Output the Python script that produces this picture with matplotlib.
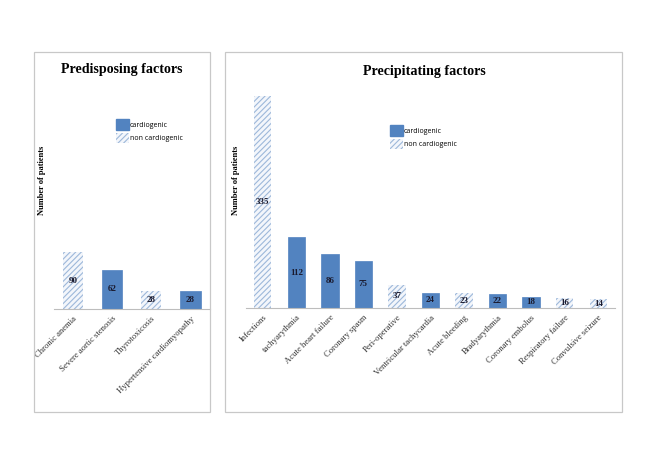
import matplotlib
matplotlib.use("Agg")
import matplotlib.pyplot as plt
from matplotlib.patches import Rectangle, Patch

pre_labels = ["Chronic anemia", "Severe aortic stenosis", "Thyrotoxicosis",
              "Hypertensive cardiomyopathy"]
pre_values = [90, 62, 28, 28]
pre_cardio = [False, True, False, True]

prec_labels = ["Infections", "tachyarythmia", "Acute heart failure", "Coronary spasm",
               "Peri-operative", "Ventricular tachycardia", "Acute bleeding",
               "Bradyarythmia", "Coronary embolus", "Respiratory failure",
               "Convulsive seizure"]
prec_values = [335, 112, 86, 75, 37, 24, 23, 22, 18, 16, 14]
prec_cardio = [False, True, True, True, False, True, False, True, True, False, False]

BLUE = "#5283c0"
HATCH_C = "#9db8da"
HATCH_BG = "#f3f6fb"
W, H = 663, 469
plt.rcParams['hatch.linewidth'] = 0.8
serif = "Liberation Serif"

fig = plt.figure(figsize=(W / 100, H / 100), dpi=100)
fig.patch.set_facecolor("white")

def fx(px):
    return px / W

def fy(py):
    return 1 - py / H

# panel boxes
for x0, x1 in [(34, 210), (225, 622)]:
    fig.patches.append(Rectangle((fx(x0), fy(412)), fx(x1) - fx(x0), fy(52) - fy(412),
                                 transform=fig.transFigure, fill=False,
                                 edgecolor="#c8c8c8", linewidth=0.9))

def draw_panel(ax, labels, values, cardio, title, tx, ty, ylx, leg_x, leg_y):
    ymax = 346
    ax.set_ylim(0, ymax)
    ax.set_xlim(-0.5, len(values) - 0.5)
    for i, (v, c) in enumerate(zip(values, cardio)):
        if c:
            ax.bar(i, v, width=0.52, color=BLUE, edgecolor=BLUE, linewidth=0.5)
        else:
            ax.bar(i, v, width=0.52, color=HATCH_BG, edgecolor=HATCH_C, hatch="//////",
                   linewidth=0)
        ax.text(i, v / 2, str(v), ha="center", va="center", fontsize=6.5,
                family=serif, fontweight="bold", color="#1a1a2e")
    for s in ["top", "right", "left"]:
        ax.spines[s].set_visible(False)
    ax.spines["bottom"].set_color("#bdbdbd")
    ax.spines["bottom"].set_linewidth(0.8)
    ax.set_yticks([])
    ax.set_xticks(range(len(values)))
    ax.set_xticklabels(labels, rotation=45, ha="right", rotation_mode="anchor",
                       fontsize=6.2, family=serif, color="#333333")
    ax.tick_params(axis="x", length=0, pad=4)
    fig.text(fx(tx), fy(ty), title, ha="center", va="center", fontsize=10.1,
             family=serif, fontweight="bold")
    fig.text(fx(ylx), fy(180), "Number of patients", rotation=90, ha="center",
             va="center", fontsize=6, family=serif, fontweight="bold")
    handles = [Patch(facecolor=BLUE, edgecolor=BLUE),
               Patch(facecolor=HATCH_BG, edgecolor=HATCH_C, hatch="//////", linewidth=0)]
    fig.legend(handles, ["cardiogenic", "non cardiogenic"], loc="upper left",
               bbox_to_anchor=(fx(leg_x), fy(leg_y)), frameon=False,
               prop={"family": "Open Sans", "size": 5}, handlelength=1.75,
               handleheight=1.9, labelspacing=0.45, handletextpad=0.2, borderpad=0)

ax1 = fig.add_axes([fx(53.5), fy(309), fx(210) - fx(53.5), fy(90) - fy(309)])
draw_panel(ax1, pre_labels, pre_values, pre_cardio, "Predisposing factors",
           122, 70, 42, 113, 116)

ax2 = fig.add_axes([fx(246), fy(308), fx(615) - fx(246), fy(89) - fy(308)])
draw_panel(ax2, prec_labels, prec_values, prec_cardio, "Precipitating factors",
           424, 72, 236, 387, 122)

fig.savefig("out.png", dpi=100, facecolor="white")
